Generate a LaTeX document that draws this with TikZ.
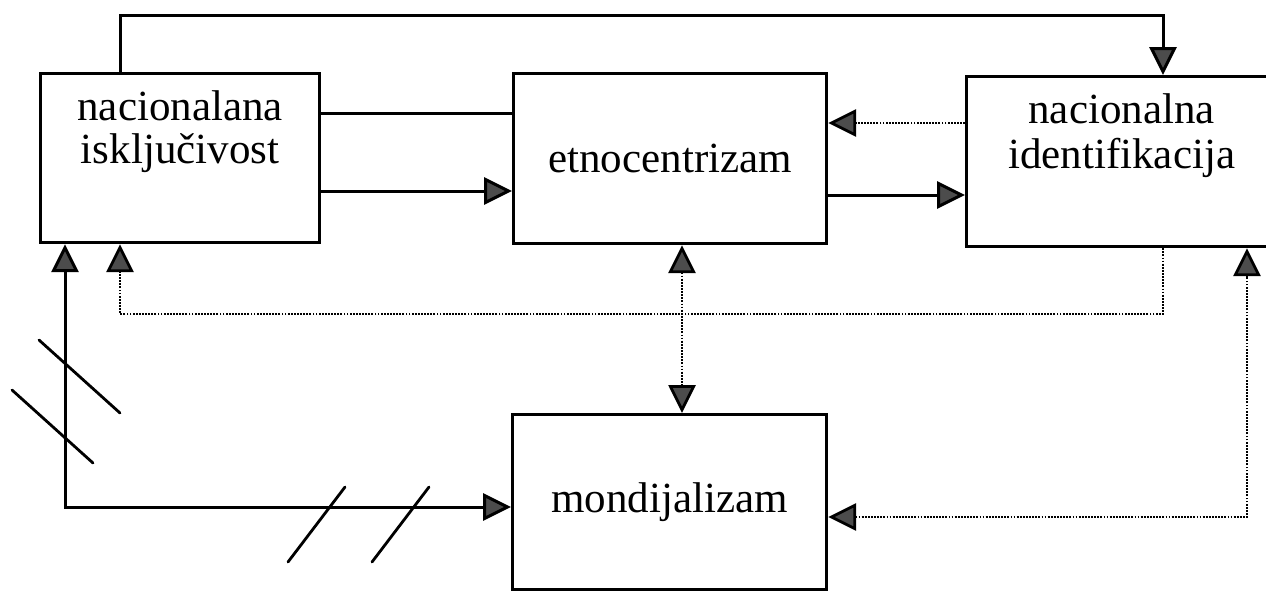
\documentclass[tikz,border=0pt]{standalone}
\usepackage{fontspec}
\setmainfont{Liberation Serif}
\usetikzlibrary{positioning}
\usetikzlibrary{arrows.meta}

\begin{document}
\begin{tikzpicture}[
x=1pt, y=-1pt,
>={Triangle[length=28pt,width=27pt,fill=black!70]},
block/.style={
	% The shape:
	rectangle, anchor=north west,
	% The border:
	line width=3.2pt, draw=black,
	% Font
	font=\fontsize{43}{45}\selectfont, align=center, inner sep=0pt},
flow/.style={line width=3pt, draw=black},
dotflow/.style={
	flow, line width=2.8pt,
	dash pattern=on 1.8pt off 1.3pt},
slash/.style={line width=2.8pt, line cap=round},
]
\useasboundingbox (0,0) rectangle (1266,590);

\node (excl) [block, minimum width=279pt, minimum height=169pt,
	label={[yshift=26pt, align=center, font=\fontsize{43}{43}\selectfont]center:nacionalana\\isključivost}] at (39,72) {};
\node (etno) [block, minimum width=313pt, minimum height=170pt] at (512,72) {etnocentrizam};
\node (ident) [block, minimum width=310pt, minimum height=170pt,
	label={[yshift=26pt, align=center, font=\fontsize{43}{45}\selectfont]center:nacionalna\\identifikacija}] at (965,75) {};
\node (mondi) [block, minimum width=314pt, minimum height=175pt] at (511,413) {mondijalizam};

% solid connectors
\draw[flow, ->] ([xshift=81pt]excl.north west) -- ++(0,-57) -| ([xshift=198pt]ident.north west);
\draw[flow] (excl.east |- 0,113) -- (etno.west |- 0,113);
\draw[flow, ->] (excl.east |- 0,191) -- (etno.west |- 0,191);
\draw[flow, ->] (etno.east |- 0,195) -- (ident.west |- 0,195);
\draw[flow, <->] (excl.south -| 65,0) |- (mondi.west |- 0,507);

% dotted connectors
\draw[dotflow, ->] (ident.west |- 0,123) -- (etno.east |- 0,123);
\draw[dotflow, ->] (ident.south -| 1163,0) |- (120,314) -- (excl.south -| 120,0);
\draw[dotflow, <->] (etno.south -| 682,0) -- (mondi.north -| 682,0);
\draw[dotflow, <->] (mondi.east |- 0,517) -| (ident.south -| 1247,0);

% slash marks
\draw[slash] (39,340) -- (120,413);
\draw[slash] (12,390) -- (93,463);
\draw[slash] (288,562) -- (345,487);
\draw[slash] (372,562) -- (429,487);
\end{tikzpicture}
\end{document}
